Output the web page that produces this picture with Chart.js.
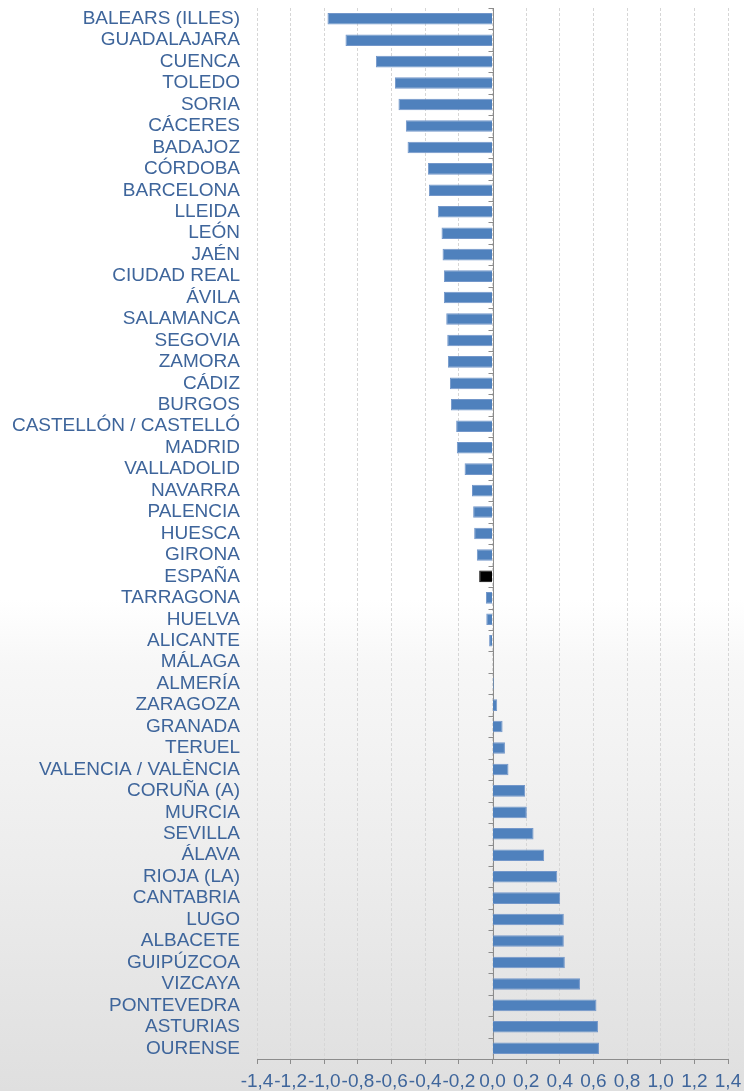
<!DOCTYPE html>
<html>
<head>
<meta charset="utf-8">
<script src="https://cdn.jsdelivr.net/npm/chart.js@4/dist/chart.umd.min.js"></script>
<style>
  html, body { margin: 0; padding: 0; }
  body {
    width: 744px; height: 1091px; overflow: hidden;
    background: linear-gradient(to bottom, #ffffff 0%, #ffffff 55%, #f7f7f7 61%, #ececec 80%, #dfdfdf 100%);
  }
  #wrap { position: relative; width: 744px; height: 1091px; }
</style>
</head>
<body>
<div id="wrap"><canvas id="c" width="744" height="1091"></canvas></div>
<script>
const categories = ['BALEARS (ILLES)','GUADALAJARA','CUENCA','TOLEDO','SORIA','CÁCERES','BADAJOZ','CÓRDOBA','BARCELONA','LLEIDA','LEÓN','JAÉN','CIUDAD REAL','ÁVILA','SALAMANCA','SEGOVIA','ZAMORA','CÁDIZ','BURGOS','CASTELLÓN / CASTELLÓ','MADRID','VALLADOLID','NAVARRA','PALENCIA','HUESCA','GIRONA','ESPAÑA','TARRAGONA','HUELVA','ALICANTE','MÁLAGA','ALMERÍA','ZARAGOZA','GRANADA','TERUEL','VALENCIA / VALÈNCIA','CORUÑA (A)','MURCIA','SEVILLA','ÁLAVA','RIOJA (LA)','CANTABRIA','LUGO','ALBACETE','GUIPÚZCOA','VIZCAYA','PONTEVEDRA','ASTURIAS','OURENSE'];
const values = [-0.981,-0.874,-0.693,-0.580,-0.559,-0.515,-0.505,-0.384,-0.378,-0.325,-0.303,-0.297,-0.289,-0.289,-0.275,-0.269,-0.265,-0.253,-0.247,-0.216,-0.212,-0.166,-0.122,-0.115,-0.109,-0.093,-0.079,-0.039,-0.037,-0.020,-0.003,0.008,0.028,0.060,0.074,0.095,0.194,0.204,0.244,0.307,0.385,0.402,0.424,0.424,0.430,0.520,0.618,0.627,0.633];
const highlight = 'ESPAÑA';
const xMin = -1.4, xMax = 1.4, xStep = 0.2;

const barColor = '#4F81BD';
const barEdge = '#7397CA';
const hiColor = '#000000';
const textColor = '#3E659B';
const font = "'Liberation Sans', Arial, sans-serif";

const zeroLine = {
  id: 'zeroLine',
  beforeDatasetsDraw(chart) {
    const {ctx, scales: {x, y}} = chart;
    const x0 = Math.round(x.getPixelForValue(0)) + 0.5;
    ctx.save();
    ctx.strokeStyle = '#8c8c8c';
    ctx.lineWidth = 1;
    ctx.beginPath();
    ctx.moveTo(x0, y.top);
    ctx.lineTo(x0, y.bottom);
    for (let i = 0; i <= categories.length; i++) {
      const py = Math.round(y.getPixelForValue(i - 0.5)) + 0.5;
      ctx.moveTo(x0 - 5, py);
      ctx.lineTo(x0, py);
    }
    ctx.stroke();
    ctx.restore();
  }
};

new Chart(document.getElementById('c'), {
  type: 'bar',
  data: {
    labels: categories,
    datasets: [{
      data: values,
      backgroundColor: categories.map(c => c === highlight ? hiColor : barColor),
      borderColor: categories.map(c => c === highlight ? hiColor : barEdge),
      borderWidth: 1,
      barPercentage: 0.54,
      categoryPercentage: 1.0
    }]
  },
  options: {
    indexAxis: 'y',
    responsive: false,
    devicePixelRatio: 1,
    animation: false,
    layout: { padding: { top: 8, right: 16, left: 0, bottom: 0 } },
    plugins: { legend: { display: false }, tooltip: { enabled: false } },
    scales: {
      x: {
        min: xMin, max: xMax,
        afterFit(s) { s.height = 32; s.paddingLeft = 0; s.paddingRight = 0; },
        ticks: {
          stepSize: xStep,
          color: textColor,
          font: { family: font, size: 19 },
          padding: 6,
          maxRotation: 0,
          autoSkip: false,
          callback(v) {
            if (Math.abs(v) < 1e-9) return '0,0';
            return v.toFixed(1).replace('.', ',');
          }
        },
        grid: {
          color: '#d6d6d6',
          lineWidth: 1,
          drawTicks: true,
          tickLength: 5,
          tickColor: '#8c8c8c'
        },
        border: { display: true, color: '#8c8c8c', width: 1, dash: [3, 2] }
      },
      y: {
        afterFit(s) { s.width = 257; s.paddingTop = 0; s.paddingBottom = 0; },
        ticks: {
          color: textColor,
          font: { family: font, size: 19 },
          padding: 17,
          autoSkip: false
        },
        grid: { display: false, drawTicks: false },
        border: { display: false }
      }
    }
  },
  plugins: [zeroLine]
});
</script>
</body>
</html>
